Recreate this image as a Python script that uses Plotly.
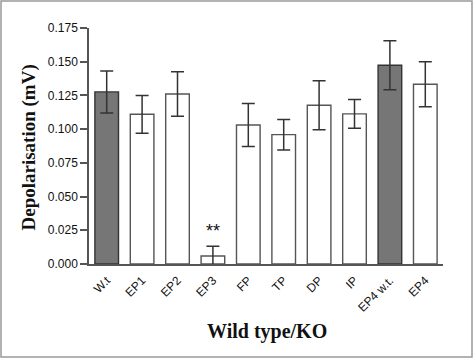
import plotly.graph_objects as go

categories = ["W.t", "EP1", "EP2", "EP3", "FP", "TP", "DP", "IP", "EP4 w.t.", "EP4"]
values = [0.1276, 0.1110, 0.1261, 0.0059, 0.1031, 0.0959, 0.1177, 0.1113, 0.1474, 0.1333]
errors = [0.0156, 0.0140, 0.0165, 0.0072, 0.0160, 0.0113, 0.0182, 0.0107, 0.0182, 0.0167]
is_wildtype = [True, False, False, False, False, False, False, False, True, False]
y_ticks = [0.0, 0.025, 0.05, 0.075, 0.1, 0.125, 0.15, 0.175]
y_tick_labels = ["0.000", "0.025", "0.050", "0.075", "0.100", "0.125", "0.150", "0.175"]

fill_colors = ["#767676" if w else "#ffffff" for w in is_wildtype]
line_colors = ["#333333" if w else "#555555" for w in is_wildtype]

W, H = 473, 358
L, R, T, B = 89, 30, 28, 94
pw = W - L - R
ph = H - T - B

fig = go.Figure()
fig.add_trace(go.Bar(
    x=categories,
    y=values,
    width=0.667,
    marker=dict(color=fill_colors, line=dict(color=line_colors, width=1.4)),
    error_y=dict(type="data", array=errors, visible=True, color="#333333",
                 thickness=1.5, width=6.5),
    showlegend=False,
))

fig.add_annotation(x="EP3", y=values[3] + errors[3], text="**", showarrow=False,
                   yanchor="bottom", yshift=3,
                   font=dict(family="Liberation Sans, Arial", size=18, color="#111111"))

# axis titles placed as paper annotations
fig.add_annotation(xref="paper", yref="paper",
                   x=(28.5 - L) / pw, y=(H - B - 148) / ph,
                   text="<b>Depolarisation (mV)</b>", textangle=-90, showarrow=False,
                   xanchor="center", yanchor="middle",
                   font=dict(family="Liberation Serif, Times New Roman", size=19, color="#111111"))
fig.add_annotation(xref="paper", yref="paper",
                   x=(266.5 - L) / pw, y=(H - B - 331) / ph,
                   text="<b>Wild type/KO</b>", showarrow=False,
                   xanchor="center", yanchor="middle",
                   font=dict(family="Liberation Serif, Times New Roman", size=20, color="#111111"))

fig.update_layout(
    width=W, height=H,
    margin=dict(l=L, r=R, t=T, b=B, autoexpand=False),
    paper_bgcolor="white", plot_bgcolor="white",
    bargap=0.333,
    font=dict(family="Liberation Sans, Arial", size=11, color="#111111"),
    xaxis=dict(
        range=[-0.5, 9.5], automargin=False,
        showline=True, linecolor="#555555", linewidth=1.5,
        ticks="", tickangle=-45, showgrid=False, ticklabelstandoff=3,
        tickfont=dict(family="Liberation Sans, Arial", size=12, color="#111111"),
    ),
    yaxis=dict(
        range=[0, 0.175], automargin=False,
        tickvals=y_ticks, ticktext=y_tick_labels,
        showline=True, linecolor="#555555", linewidth=1.5,
        ticks="outside", ticklen=7, tickwidth=1.5, tickcolor="#555555",
        showgrid=False, zeroline=False,
        tickfont=dict(family="Liberation Sans, Arial", size=12, color="#111111"),
    ),
)

# outer gray frame around the whole picture
fig.add_shape(type="rect", xref="paper", yref="paper",
              x0=(1 - L) / pw, x1=(W - 1 - L) / pw,
              y0=(1 - B) / ph, y1=(H - 1 - B) / ph,
              line=dict(color="#999999", width=1.5), fillcolor="rgba(0,0,0,0)", layer="below")

fig.write_html("out.html", config={"displayModeBar": False},
               post_script="document.body.style.margin='0px';document.body.style.overflow='hidden';")
